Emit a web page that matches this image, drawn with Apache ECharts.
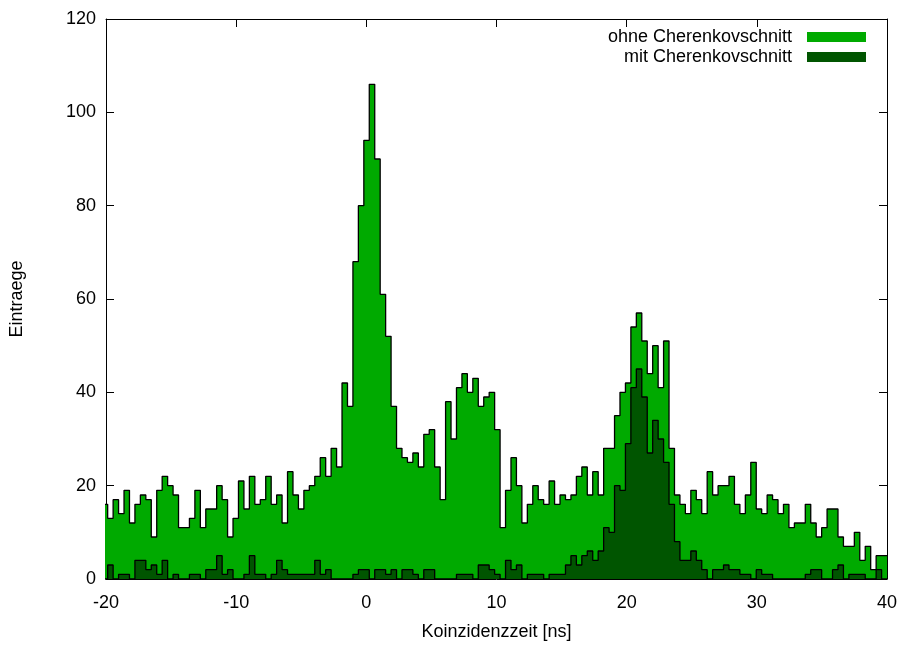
<!DOCTYPE html>
<html>
<head>
<meta charset="utf-8">
<script src="https://cdn.jsdelivr.net/npm/echarts@6/dist/echarts.min.js"></script>
<style>
html,body{margin:0;padding:0;background:#fff;}
#chart{width:903px;height:646px;}
</style>
</head>
<body>
<div id="chart"></div>
<script>
// Histogram binning (ns)
const binStart = -20.29;
const binWidth = 0.4187;

// Counts per bin: "ohne Cherenkovschnitt"
const ohne = [
16,13,17,14,19,12,16,18,17,9,
19,22,20,18,11,11,13,19,11,15,
15,20,17,9,13,21,15,22,16,17,
22,16,18,12,23,18,15,19,20,22,
26,22,28,24,42,37,68,80,94,106,
90,61,52,37,28,26,25,27,24,31,
32,24,17,38,30,41,44,40,43,37,
39,40,32,11,19,26,20,12,16,20,
17,16,21,16,18,17,18,22,24,18,
23,18,28,28,35,40,42,54,57,51,
44,50,41,51,28,18,16,14,19,17,
14,23,18,20,20,22,16,14,18,25,
15,14,18,17,14,16,11,12,12,16,
12,9,11,15,15,9,7,7,10,4,
7,2,5,5
];

// Counts per bin: "mit Cherenkovschnitt"
const mit = [
0,3,0,1,1,0,4,4,2,3,
1,4,0,1,0,0,1,1,0,2,
2,5,1,2,0,0,1,5,1,1,
0,1,4,2,1,1,1,1,1,4,
1,2,0,0,0,0,1,2,2,0,
2,2,1,2,0,2,2,1,0,2,
2,0,0,0,0,1,1,1,0,3,
3,2,1,0,4,2,3,0,1,1,
1,0,1,1,1,3,5,3,5,6,
4,6,11,10,20,19,29,41,45,39,
27,34,30,25,16,8,4,4,6,4,
2,0,2,2,3,2,2,1,1,0,
2,1,1,0,0,0,0,0,0,1,
2,2,0,0,2,3,0,1,1,1,
0,0,2,0
];

const seriesNames = ['ohne Cherenkovschnitt', 'mit Cherenkovschnitt'];
const xTicks = [-20, -10, 0, 10, 20, 30, 40];
const yTicks = [0, 20, 40, 60, 80, 100, 120];

function stepPoints(vals) {
  const pts = vals.map((v, i) => [binStart + i * binWidth, v]);
  pts.push([binStart + vals.length * binWidth, vals[vals.length - 1]]);
  return pts;
}

const FONT = 'Liberation Sans';
const FS = 18;
const LIGHT = '#00aa00';
const DARK = '#005500';

const chart = echarts.init(document.getElementById('chart'), null, {renderer: 'canvas'});

function axisCommon() {
  return {
    axisLine: {show: true, onZero: false, lineStyle: {color: '#000', width: 1}},
    axisTick: {show: true, inside: true, length: 8, lineStyle: {color: '#000', width: 1}},
    splitLine: {show: false}
  };
}

chart.setOption({
  animation: false,
  backgroundColor: '#fff',
  textStyle: {fontFamily: FONT},
  grid: {left: 105, right: 16, top: 19, bottom: 66, containLabel: false},
  legend: [
    {
      data: [{name: seriesNames[0], icon: 'rect', itemStyle: {color: LIGHT, borderWidth: 0}}],
      orient: 'vertical', align: 'right', right: 37, top: 28, padding: 0,
      itemWidth: 59, itemHeight: 10,
      textStyle: {fontFamily: FONT, fontSize: FS, color: '#000', padding: [0, 10, 0, 0]},
      selectedMode: false
    },
    {
      data: [{name: seriesNames[1], icon: 'rect', itemStyle: {color: DARK, borderWidth: 0}}],
      orient: 'vertical', align: 'right', right: 37, top: 48, padding: 0,
      itemWidth: 59, itemHeight: 10,
      textStyle: {fontFamily: FONT, fontSize: FS, color: '#000', padding: [0, 10, 0, 0]},
      selectedMode: false
    }
  ],
  xAxis: [
    Object.assign(axisCommon(), {
      type: 'value', min: xTicks[0], max: xTicks[xTicks.length - 1], interval: 10,
      position: 'bottom',
      name: 'Koinzidenzzeit [ns]', nameLocation: 'middle', nameGap: 44,
      nameTextStyle: {fontFamily: FONT, fontSize: FS, color: '#000'},
      axisLabel: {show: true, margin: 15, fontFamily: FONT, fontSize: FS, color: '#000'}
    }),
    Object.assign(axisCommon(), {
      type: 'value', min: xTicks[0], max: xTicks[xTicks.length - 1], interval: 10,
      position: 'top', axisLabel: {show: false}
    })
  ],
  yAxis: [
    Object.assign(axisCommon(), {
      type: 'value', min: yTicks[0], max: yTicks[yTicks.length - 1], interval: 20,
      position: 'left',
      name: 'Eintraege', nameLocation: 'middle', nameGap: 80, nameRotate: 90,
      nameTextStyle: {fontFamily: FONT, fontSize: FS, color: '#000'},
      axisLabel: {show: true, margin: 10, fontFamily: FONT, fontSize: FS, color: '#000'}
    }),
    Object.assign(axisCommon(), {
      type: 'value', min: yTicks[0], max: yTicks[yTicks.length - 1], interval: 20,
      position: 'right', axisLabel: {show: false}
    })
  ],
  series: [
    {
      name: seriesNames[0], type: 'line', step: 'end',
      xAxisIndex: 0, yAxisIndex: 0,
      data: stepPoints(ohne), symbol: 'none', clip: true,
      color: LIGHT,
      lineStyle: {color: '#000', width: 1.3},
      areaStyle: {color: LIGHT, opacity: 1},
      z: 2
    },
    {
      name: seriesNames[1], type: 'line', step: 'end',
      xAxisIndex: 0, yAxisIndex: 0,
      data: stepPoints(mit), symbol: 'none', clip: true,
      color: DARK,
      lineStyle: {color: '#000', width: 1.3},
      areaStyle: {color: DARK, opacity: 1},
      z: 3
    }
  ]
});
</script>
</body>
</html>
